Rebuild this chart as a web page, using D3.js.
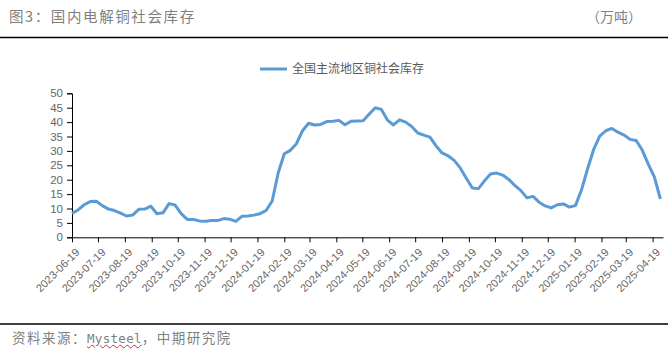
<!DOCTYPE html>
<html lang="zh">
<head>
<meta charset="UTF-8">
<title>国内电解铜社会库存</title>
<script src="https://d3js.org/d3.v7.min.js"></script>
<style>
  body { margin: 0; background: #fff; }
  #wrap { position: relative; width: 668px; height: 360px; }
  #footer {
    position: absolute; left: 12px; top: 327px;
    font-family: "Noto Sans CJK SC", sans-serif; font-size: 13.5px;
    letter-spacing: 1.5px; color: #7f7f7f; white-space: nowrap;
  }
  #footer .en {
    font-family: "DejaVu Sans Mono", monospace; font-size: 12.5px; letter-spacing: 0.3px;
    text-decoration: underline wavy #d03030; text-decoration-thickness: 1px;
  }
</style>
</head>
<body>
<div id="wrap">
  <div id="footer">资料来源：<span class="en">Mysteel</span>，中期研究院</div>
</div>
<script>
// weekly series, first point on 2023-06-19 (万吨)
var startDate = "2023-06-19";
var stock = [
  8.3, 9.5, 11.3, 12.4, 12.5, 11.0, 9.8, 9.3, 8.4, 7.4,
  7.7, 9.7, 9.8, 10.8, 8.2, 8.5, 11.7, 11.2, 8.2, 6.2,
  6.2, 5.7, 5.6, 5.8, 5.8, 6.5, 6.3, 5.5, 7.3, 7.4,
  7.7, 8.2, 9.3, 12.6, 22.4, 29.0, 30.2, 32.5, 37.0, 39.6,
  39.0, 39.2, 40.2, 40.3, 40.6, 39.1, 40.3, 40.4, 40.5, 42.8,
  45.0, 44.4, 40.7, 39.0, 40.8, 40.0, 38.5, 36.2, 35.5, 34.8,
  31.8, 29.3, 28.3, 26.7, 24.1, 20.5, 17.1, 16.9, 19.6, 22.0,
  22.3, 21.6, 20.1, 18.0, 16.2, 13.7, 14.2, 12.2, 10.9, 10.2,
  11.3, 11.6, 10.5, 11.0, 16.5, 23.8, 30.5, 35.1, 37.0, 37.8,
  36.5, 35.5, 34.0, 33.6, 30.3, 25.4, 21.0, 13.3
];
var tickLabels = [
  "2023-06-19", "2023-07-19", "2023-08-19", "2023-09-19", "2023-10-19",
  "2023-11-19", "2023-12-19", "2024-01-19", "2024-02-19", "2024-03-19",
  "2024-04-19", "2024-05-19", "2024-06-19", "2024-07-19", "2024-08-19",
  "2024-09-19", "2024-10-19", "2024-11-19", "2024-12-19", "2025-01-19",
  "2025-02-19", "2025-03-19", "2025-04-19"
];
var yTicks = [0, 5, 10, 15, 20, 25, 30, 35, 40, 45, 50];

var parse = d3.timeParse("%Y-%m-%d");
var t0 = parse(startDate);
var data = stock.map(function(v, i) {
  return { date: d3.timeDay.offset(t0, 7 * i), value: v };
});

var svg = d3.select("#wrap").insert("svg", ":first-child")
    .attr("width", 668)
    .attr("height", 360)
    .style("position", "absolute").style("left", 0).style("top", 0);

// title + unit
svg.append("text")
    .attr("x", 9).attr("y", 22)
    .style("font-family", "Noto Sans CJK SC").style("font-size", "14.5px")
    .style("letter-spacing", "1.6px").style("fill", "#7f7f7f")
    .text("图3：国内电解铜社会库存");
svg.append("text")
    .attr("x", 642).attr("y", 22).attr("text-anchor", "end")
    .style("font-family", "Noto Sans CJK SC").style("font-size", "14px")
    .style("fill", "#7f7f7f")
    .text("（万吨）");

// rules
svg.append("line").attr("x1", 0).attr("x2", 668).attr("y1", 37.5).attr("y2", 37.5)
    .attr("stroke", "#000").attr("stroke-width", 1.5);
svg.append("line").attr("x1", 0).attr("x2", 668).attr("y1", 324).attr("y2", 324)
    .attr("stroke", "#000").attr("stroke-width", 1.5);

// scales
var x = d3.scaleTime()
    .domain([parse("2023-06-19"), parse("2025-05-01")])
    .range([72, 663]);
var y = d3.scaleLinear().domain([0, 50]).range([237.3, 93.3]);

// y axis
var yAxis = svg.append("g")
    .attr("transform", "translate(72,0)")
    .call(d3.axisLeft(y).tickValues(yTicks).tickSize(5).tickPadding(4));
yAxis.select(".domain").attr("stroke", "#000");
yAxis.selectAll(".tick line").attr("stroke", "#000");
yAxis.selectAll("text")
    .style("font-family", "Liberation Sans, Arial, sans-serif")
    .style("font-size", "11.5px").style("fill", "#666");

// x axis
var xAxis = svg.append("g")
    .attr("transform", "translate(0," + y(0) + ")")
    .call(d3.axisBottom(x)
      .tickValues(tickLabels.map(parse))
      .tickFormat(d3.timeFormat("%Y-%m-%d"))
      .tickSize(5).tickSizeOuter(0));
xAxis.select(".domain").attr("stroke", "#000");
xAxis.selectAll(".tick line").attr("stroke", "#000");
xAxis.selectAll("text")
    .attr("x", 0).attr("y", 0).attr("dy", "0.35em")
    .attr("transform", "translate(5,13) rotate(-45)")
    .style("text-anchor", "end")
    .style("font-family", "Liberation Sans, Arial, sans-serif")
    .style("font-size", "11px").style("fill", "#666");

// line
var line = d3.line()
    .x(function(d) { return x(d.date); })
    .y(function(d) { return y(d.value); });
svg.append("path")
    .datum(data)
    .attr("fill", "none")
    .attr("stroke", "#5b9bd5")
    .attr("stroke-width", 3)
    .attr("stroke-linejoin", "round")
    .attr("d", line);

// legend
svg.append("line").attr("x1", 260).attr("x2", 287).attr("y1", 69).attr("y2", 69)
    .attr("stroke", "#5b9bd5").attr("stroke-width", 3);
svg.append("text")
    .attr("x", 292).attr("y", 69).attr("dy", "0.35em")
    .style("font-family", "Noto Sans CJK SC").style("font-size", "12px")
    .style("fill", "#595959")
    .text("全国主流地区铜社会库存");
</script>
</body>
</html>
